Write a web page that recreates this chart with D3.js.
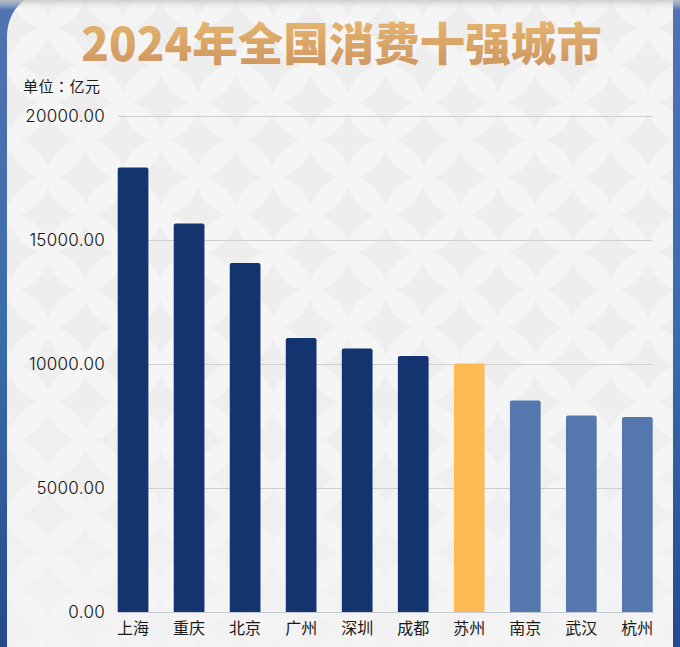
<!DOCTYPE html>
<html>
<head>
<meta charset="utf-8">
<script src="https://cdn.jsdelivr.net/npm/d3@7"></script>
<style>
    html, body { margin: 0; padding: 0; background: #3f68a8; }
    svg { display: block; }
    text { font-family: "Noto Sans CJK SC", sans-serif; }
</style>
</head>
<body>
<svg id="chart" width="680" height="647"></svg>
<script>
    var cities = ["上海", "重庆", "北京", "广州", "深圳", "成都", "苏州", "南京", "武汉", "杭州"];
    var consumption = [17925, 15665, 14075, 11050, 10625, 10325, 10020, 8530, 7925, 7865];
    var barColors = ["#14346f", "#14346f", "#14346f", "#14346f", "#14346f", "#14346f", "#febb55", "#5577ad", "#5577ad", "#5577ad"];
    var yTicks = [0, 5000, 10000, 15000, 20000];

    var svg = d3.select("#chart");
    var defs = svg.append("defs");

    function verticalGradient(id, stops) {
        var g = defs.append("linearGradient").attr("id", id).attr("x1", 0).attr("y1", 0).attr("x2", 0).attr("y2", 1);
        stops.forEach(function(s) {
            g.append("stop").attr("offset", s[0]).attr("stop-color", s[1]).attr("stop-opacity", s[2]);
        });
    }

    verticalGradient("frame", [[0, "#5273b0", 1], [0.5, "#3a6cab", 1], [0.75, "#2f5c9e", 1], [1, "#254a8c", 1]]);
    verticalGradient("gold", [[0.22, "#e4b36f", 1], [0.8, "#d19a62", 1]]);
    verticalGradient("topShade", [[0, "#c8c8c8", 0.85], [1, "#eeeeee", 0]]);
    verticalGradient("bottomFade", [[0, "#f3f3f3", 0], [1, "#f3f3f3", 0.7]]);

    // panel texture, light ground with concave stars on a staggered grid
    var tile = defs.append("pattern")
        .attr("id", "tile")
        .attr("patternUnits", "userSpaceOnUse")
        .attr("x", 10.5).attr("y", 27.5)
        .attr("width", 75).attr("height", 75);
    tile.append("rect").attr("width", 75).attr("height", 75).attr("fill", "#f5f5f5");
    [[37.5, 37.5], [0, 0], [75, 0], [0, 75], [75, 75]].forEach(function(c) {
        var h = 28, r = 45;
        tile.append("path")
            .attr("fill", "#eeeeee")
            .attr("transform", "translate(" + c[0] + "," + c[1] + ")")
            .attr("d", "M0 " + (-h) +
                "A" + r + " " + r + " 0 0 0 " + h + " 0" +
                "A" + r + " " + r + " 0 0 0 0 " + h +
                "A" + r + " " + r + " 0 0 0 " + (-h) + " 0" +
                "A" + r + " " + r + " 0 0 0 0 " + (-h) + "Z");
    });

    svg.append("rect").attr("width", 680).attr("height", 647).attr("fill", "url(#frame)");
    var panelPath = "M7 647V36C7 20 15 6 25 0H673V647Z";
    svg.append("path").attr("d", panelPath).attr("fill", "url(#tile)");
    svg.append("rect").attr("x", 7).attr("y", 380).attr("width", 666).attr("height", 267).attr("fill", "url(#bottomFade)");
    svg.append("rect").attr("x", 0).attr("y", 0).attr("width", 680).attr("height", 10).attr("fill", "url(#topShade)");

    var x = d3.scaleBand().domain(cities).range([117.7, 652.7]).paddingInner(0.452).paddingOuter(0);
    var y = d3.scaleLinear().domain([0, 20000]).range([612, 116]);

    // grid, half pixel keeps the lines one pixel thick
    svg.append("g").selectAll("line")
        .data(yTicks.slice(1))
        .join("line")
        .attr("x1", 118).attr("x2", 652.7)
        .attr("y1", function(d) { return y(d) + 0.5; })
        .attr("y2", function(d) { return y(d) + 0.5; })
        .attr("stroke", "#cfcfcf")
        .attr("stroke-width", 1);

    // bars, only the top corners are rounded
    svg.append("g").selectAll("path")
        .data(cities)
        .join("path")
        .attr("fill", function(d, i) { return barColors[i]; })
        .attr("d", function(d, i) {
            var left = x(d), w = x.bandwidth(), top = y(consumption[i]), r = 2;
            return "M" + left + " " + y(0) + "V" + (top + r) +
                "Q" + left + " " + top + " " + (left + r) + " " + top +
                "H" + (left + w - r) +
                "Q" + (left + w) + " " + top + " " + (left + w) + " " + (top + r) +
                "V" + y(0) + "Z";
        });

    // axes
    var yAxis = svg.append("g")
        .attr("transform", "translate(118,0)")
        .call(d3.axisLeft(y).tickValues(yTicks).tickSize(0).tickPadding(13).tickFormat(d3.format(".2f")));
    yAxis.select(".domain").remove();
    yAxis.selectAll("text")
        .style("font-family", "Inter, sans-serif")
        .style("font-size", "17px")
        .style("font-weight", "300")
        .style("letter-spacing", "0.3px")
        .attr("fill", "#111111");

    var xAxis = svg.append("g")
        .attr("transform", "translate(0,612)")
        .call(d3.axisBottom(x).tickSize(0).tickPadding(11));
    xAxis.select(".domain").attr("stroke", "#c4c8d0").attr("stroke-width", 1);
    xAxis.selectAll("text")
        .style("font-family", "'Noto Sans CJK SC', sans-serif")
        .style("font-size", "16px")
        .attr("fill", "#1a1a1a");

    svg.append("text")
        .attr("x", 341.5).attr("y", 60.5)
        .attr("text-anchor", "middle")
        .attr("font-size", 45.5)
        .attr("font-weight", 900)
        .attr("fill", "url(#gold)")
        .text("2024年全国消费十强城市");

    // TC cut keeps the colon centred in its cell, as in the reference
    svg.append("text")
        .attr("x", 23).attr("y", 92)
        .attr("font-size", 15)
        .attr("letter-spacing", 0.5)
        .attr("fill", "#1a1a1a")
        .style("font-family", "'Noto Sans CJK TC', sans-serif")
        .text("单位：亿元");
</script>
</body>
</html>
